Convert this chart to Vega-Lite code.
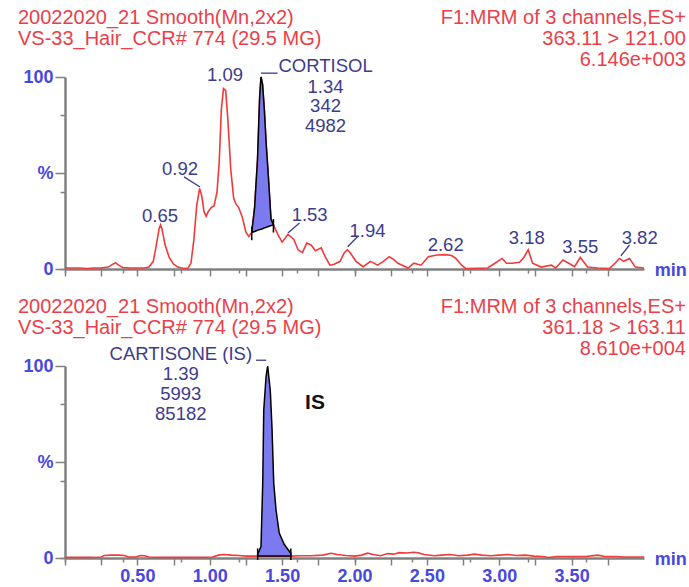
{
  "$schema": "https://vega.github.io/schema/vega-lite/v6.json",
  "padding": {"left": 17, "top": 8, "right": 0, "bottom": 0},
  "background": "white",
  "bounds": "flush",
  "spacing": 97,
  "config": {"view": {"stroke": null}, "font": "Liberation Sans"},
  "datasets": {
    "trace": [
      {"panel":"top","t":0.00,"v":0.5},{"panel":"top","t":0.05,"v":0.5},{"panel":"top","t":0.10,"v":0.5},{"panel":"top","t":0.15,"v":0.3},{"panel":"top","t":0.20,"v":0.5},{"panel":"top","t":0.25,"v":0.5},{"panel":"top","t":0.30,"v":1.0},{"panel":"top","t":0.33,"v":2.5},{"panel":"top","t":0.35,"v":3.2},{"panel":"top","t":0.37,"v":2.0},{"panel":"top","t":0.40,"v":0.8},{"panel":"top","t":0.45,"v":0.5},{"panel":"top","t":0.50,"v":0.5},{"panel":"top","t":0.55,"v":0.5},{"panel":"top","t":0.58,"v":1.0},{"panel":"top","t":0.61,"v":4},{"panel":"top","t":0.63,"v":12},{"panel":"top","t":0.65,"v":21},{"panel":"top","t":0.66,"v":23},{"panel":"top","t":0.67,"v":21},{"panel":"top","t":0.69,"v":13},{"panel":"top","t":0.72,"v":6},{"panel":"top","t":0.75,"v":2.5},{"panel":"top","t":0.78,"v":1},{"panel":"top","t":0.82,"v":0.3},{"panel":"top","t":0.85,"v":0.5},{"panel":"top","t":0.87,"v":3},{"panel":"top","t":0.89,"v":15},{"panel":"top","t":0.91,"v":33},{"panel":"top","t":0.93,"v":42},{"panel":"top","t":0.945,"v":38},{"panel":"top","t":0.96,"v":30},{"panel":"top","t":0.975,"v":27.5},{"panel":"top","t":0.99,"v":30},{"panel":"top","t":1.01,"v":32},{"panel":"top","t":1.03,"v":33},{"panel":"top","t":1.05,"v":40},{"panel":"top","t":1.065,"v":55},{"panel":"top","t":1.08,"v":83},{"panel":"top","t":1.095,"v":94},{"panel":"top","t":1.11,"v":93},{"panel":"top","t":1.125,"v":78},{"panel":"top","t":1.145,"v":52},{"panel":"top","t":1.165,"v":37},{"panel":"top","t":1.18,"v":34},{"panel":"top","t":1.20,"v":32},{"panel":"top","t":1.225,"v":27},{"panel":"top","t":1.25,"v":19},{"panel":"top","t":1.27,"v":17},{"panel":"top","t":1.29,"v":19},{"panel":"top","t":1.31,"v":32},{"panel":"top","t":1.33,"v":57},{"panel":"top","t":1.345,"v":90},{"panel":"top","t":1.354,"v":100},{"panel":"top","t":1.365,"v":96},{"panel":"top","t":1.377,"v":83},{"panel":"top","t":1.39,"v":65},{"panel":"top","t":1.405,"v":48},{"panel":"top","t":1.423,"v":26},{"panel":"top","t":1.44,"v":23},{"panel":"top","t":1.47,"v":18},{"panel":"top","t":1.50,"v":14},{"panel":"top","t":1.54,"v":18},{"panel":"top","t":1.58,"v":15.5},{"panel":"top","t":1.61,"v":10},{"panel":"top","t":1.64,"v":8.5},{"panel":"top","t":1.67,"v":13.5},{"panel":"top","t":1.70,"v":12.5},{"panel":"top","t":1.73,"v":9.5},{"panel":"top","t":1.77,"v":11},{"panel":"top","t":1.80,"v":6},{"panel":"top","t":1.83,"v":2},{"panel":"top","t":1.86,"v":2.5},{"panel":"top","t":1.90,"v":4},{"panel":"top","t":1.93,"v":8.5},{"panel":"top","t":1.95,"v":10},{"panel":"top","t":1.97,"v":8.5},{"panel":"top","t":2.01,"v":4},{"panel":"top","t":2.06,"v":1.2},{"panel":"top","t":2.11,"v":4},{"panel":"top","t":2.16,"v":2},{"panel":"top","t":2.20,"v":4},{"panel":"top","t":2.24,"v":6.4},{"panel":"top","t":2.27,"v":5},{"panel":"top","t":2.30,"v":3},{"panel":"top","t":2.37,"v":0.5},{"panel":"top","t":2.41,"v":3},{"panel":"top","t":2.46,"v":2},{"panel":"top","t":2.51,"v":6.4},{"panel":"top","t":2.57,"v":7.3},{"panel":"top","t":2.63,"v":7.5},{"panel":"top","t":2.67,"v":7},{"panel":"top","t":2.70,"v":5.5},{"panel":"top","t":2.74,"v":2},{"panel":"top","t":2.77,"v":0.2},{"panel":"top","t":2.85,"v":0.3},{"panel":"top","t":2.92,"v":0.5},{"panel":"top","t":2.97,"v":3},{"panel":"top","t":3.02,"v":5.5},{"panel":"top","t":3.05,"v":3},{"panel":"top","t":3.09,"v":3},{"panel":"top","t":3.14,"v":3.5},{"panel":"top","t":3.17,"v":6},{"panel":"top","t":3.20,"v":10},{"panel":"top","t":3.23,"v":3},{"panel":"top","t":3.29,"v":1},{"panel":"top","t":3.36,"v":2},{"panel":"top","t":3.39,"v":0.5},{"panel":"top","t":3.44,"v":4.7},{"panel":"top","t":3.48,"v":3},{"panel":"top","t":3.52,"v":1.2},{"panel":"top","t":3.56,"v":6},{"panel":"top","t":3.61,"v":1},{"panel":"top","t":3.68,"v":0.5},{"panel":"top","t":3.76,"v":0.2},{"panel":"top","t":3.80,"v":3},{"panel":"top","t":3.83,"v":5.5},{"panel":"top","t":3.86,"v":4},{"panel":"top","t":3.90,"v":5.5},{"panel":"top","t":3.94,"v":1},{"panel":"top","t":4.00,"v":0.5},
      {"panel":"bottom","t":0.00,"v":0.3},{"panel":"bottom","t":0.10,"v":0.3},{"panel":"bottom","t":0.20,"v":0.3},{"panel":"bottom","t":0.25,"v":0.5},{"panel":"bottom","t":0.27,"v":1.3},{"panel":"bottom","t":0.32,"v":1.5},{"panel":"bottom","t":0.37,"v":1.5},{"panel":"bottom","t":0.41,"v":1.3},{"panel":"bottom","t":0.44,"v":0.5},{"panel":"bottom","t":0.49,"v":0.5},{"panel":"bottom","t":0.52,"v":1.3},{"panel":"bottom","t":0.55,"v":1.2},{"panel":"bottom","t":0.58,"v":0.5},{"panel":"bottom","t":0.65,"v":0.3},{"panel":"bottom","t":0.80,"v":0.3},{"panel":"bottom","t":0.95,"v":0.3},{"panel":"bottom","t":1.02,"v":0.5},{"panel":"bottom","t":1.06,"v":1.5},{"panel":"bottom","t":1.10,"v":1.8},{"panel":"bottom","t":1.15,"v":1.5},{"panel":"bottom","t":1.20,"v":1.3},{"panel":"bottom","t":1.25,"v":1.0},{"panel":"bottom","t":1.331,"v":1.0},{"panel":"bottom","t":1.56,"v":1.0},{"panel":"bottom","t":1.62,"v":1.2},{"panel":"bottom","t":1.70,"v":1.2},{"panel":"bottom","t":1.78,"v":1.5},{"panel":"bottom","t":1.84,"v":2.5},{"panel":"bottom","t":1.88,"v":1.8},{"panel":"bottom","t":1.94,"v":1.3},{"panel":"bottom","t":2.00,"v":1.0},{"panel":"bottom","t":2.05,"v":1.5},{"panel":"bottom","t":2.09,"v":2.5},{"panel":"bottom","t":2.13,"v":1.8},{"panel":"bottom","t":2.18,"v":1.2},{"panel":"bottom","t":2.23,"v":2.3},{"panel":"bottom","t":2.27,"v":2.0},{"panel":"bottom","t":2.31,"v":2.8},{"panel":"bottom","t":2.36,"v":2.6},{"panel":"bottom","t":2.41,"v":3.0},{"panel":"bottom","t":2.44,"v":2.7},{"panel":"bottom","t":2.48,"v":1.8},{"panel":"bottom","t":2.55,"v":1.2},{"panel":"bottom","t":2.60,"v":1.5},{"panel":"bottom","t":2.66,"v":1.8},{"panel":"bottom","t":2.72,"v":1.2},{"panel":"bottom","t":2.78,"v":1.5},{"panel":"bottom","t":2.83,"v":2.0},{"panel":"bottom","t":2.88,"v":1.5},{"panel":"bottom","t":2.94,"v":1.2},{"panel":"bottom","t":3.00,"v":1.5},{"panel":"bottom","t":3.06,"v":1.8},{"panel":"bottom","t":3.12,"v":1.3},{"panel":"bottom","t":3.18,"v":1.5},{"panel":"bottom","t":3.24,"v":1.0},{"panel":"bottom","t":3.30,"v":0.8},{"panel":"bottom","t":3.34,"v":0.3},{"panel":"bottom","t":3.40,"v":0.8},{"panel":"bottom","t":3.50,"v":0.8},{"panel":"bottom","t":3.60,"v":0.8},{"panel":"bottom","t":3.68,"v":1.5},{"panel":"bottom","t":3.73,"v":0.8},{"panel":"bottom","t":3.80,"v":0.8},{"panel":"bottom","t":3.86,"v":0.5},{"panel":"bottom","t":3.92,"v":0.5},{"panel":"bottom","t":4.00,"v":0.5}
    ],
    "peak": [
      {"panel":"top","t":1.29,"v":19,"base":19},{"panel":"top","t":1.31,"v":32,"base":19.5},{"panel":"top","t":1.33,"v":57,"base":20.1},{"panel":"top","t":1.345,"v":90,"base":20.5},{"panel":"top","t":1.354,"v":100,"base":20.7},{"panel":"top","t":1.365,"v":96,"base":21},{"panel":"top","t":1.377,"v":83,"base":21.4},{"panel":"top","t":1.39,"v":65,"base":21.7},{"panel":"top","t":1.405,"v":48,"base":22.1},{"panel":"top","t":1.423,"v":26,"base":22.6},{"panel":"top","t":1.44,"v":23,"base":23},
      {"panel":"bottom","t":1.331,"v":2,"base":1},{"panel":"bottom","t":1.354,"v":6,"base":1},{"panel":"bottom","t":1.366,"v":39,"base":1},{"panel":"bottom","t":1.373,"v":77,"base":1},{"panel":"bottom","t":1.389,"v":94.5,"base":1},{"panel":"bottom","t":1.40,"v":100,"base":1},{"panel":"bottom","t":1.418,"v":87.5,"base":1},{"panel":"bottom","t":1.43,"v":68,"base":1},{"panel":"bottom","t":1.442,"v":39,"base":1},{"panel":"bottom","t":1.458,"v":25,"base":1},{"panel":"bottom","t":1.48,"v":13,"base":1},{"panel":"bottom","t":1.515,"v":7,"base":1},{"panel":"bottom","t":1.56,"v":2.5,"base":1}
    ],
    "ann": [
      {"panel":"top","t":0.656,"v":27.6,"text":"0.65"},{"panel":"top","t":0.795,"v":52,"text":"0.92"},{"panel":"top","t":1.105,"v":101,"text":"1.09"},{"panel":"top","t":1.80,"v":105.7,"text":"CORTISOL"},{"panel":"top","t":1.80,"v":94.8,"text":"1.34"},{"panel":"top","t":1.80,"v":84.7,"text":"342"},{"panel":"top","t":1.80,"v":74.3,"text":"4982"},{"panel":"top","t":1.69,"v":28,"text":"1.53"},{"panel":"top","t":2.09,"v":20,"text":"1.94"},{"panel":"top","t":2.63,"v":12.5,"text":"2.62"},{"panel":"top","t":3.19,"v":16,"text":"3.18"},{"panel":"top","t":3.56,"v":11.5,"text":"3.55"},{"panel":"top","t":3.97,"v":16,"text":"3.82"},
      {"panel":"bottom","t":0.80,"v":106.5,"text":"CARTISONE (IS)"},{"panel":"bottom","t":0.80,"v":96,"text":"1.39"},{"panel":"bottom","t":0.80,"v":85.5,"text":"5993"},{"panel":"bottom","t":0.80,"v":75,"text":"85182"}
    ],
    "leaders": [
      {"panel":"top","t":0.822,"v":48,"t2":0.933,"v2":42.7},{"panel":"top","t":1.54,"v":18.8,"t2":1.62,"v2":24},{"panel":"top","t":1.953,"v":11.6,"t2":2.02,"v2":16.8},{"panel":"top","t":3.84,"v":6.8,"t2":3.90,"v2":12.5},{"panel":"top","t":1.354,"v":102,"t2":1.469,"v2":102},
      {"panel":"bottom","t":1.32,"v":103,"t2":1.39,"v2":103}
    ],
    "bounds": [
      {"panel":"top","t":1.29,"v":15,"v2":22},{"panel":"top","t":1.44,"v":19,"v2":26},
      {"panel":"bottom","t":1.331,"v":-1,"v2":5},{"panel":"bottom","t":1.56,"v":-1,"v2":5}
    ],
    "headL": [
      {"panel":"top","t":-0.325,"v":130.7,"text":"20022020_21 Smooth(Mn,2x2)"},{"panel":"top","t":-0.325,"v":119.8,"text":"VS-33_Hair_CCR# 774 (29.5 MG)"},
      {"panel":"bottom","t":-0.325,"v":130.7,"text":"20022020_21 Smooth(Mn,2x2)"},{"panel":"bottom","t":-0.325,"v":119.8,"text":"VS-33_Hair_CCR# 774 (29.5 MG)"}
    ],
    "headR": [
      {"panel":"top","t":4.29,"v":130.7,"text":"F1:MRM of 3 channels,ES+"},{"panel":"top","t":4.29,"v":119.8,"text":"363.11 > 121.00"},{"panel":"top","t":4.29,"v":108.9,"text":"6.146e+003"},
      {"panel":"bottom","t":4.29,"v":130.7,"text":"F1:MRM of 3 channels,ES+"},{"panel":"bottom","t":4.29,"v":119.8,"text":"361.18 > 163.11"},{"panel":"bottom","t":4.29,"v":108.9,"text":"8.610e+004"}
    ],
    "unit": [
      {"panel":"top","t":4.075,"v":-1,"text":"min"},{"panel":"bottom","t":4.075,"v":-1,"text":"min"}
    ],
    "tag": [
      {"panel":"bottom","t":1.727,"v":80.7,"text":"IS"}
    ]
  },
  "vconcat": [
    {
      "width": 579, "height": 192,
      "resolve": {"axis": {"x": "independent", "y": "independent"}},
      "layer": [
        {"layer": [
          {"data":{"name":"trace"},"transform":[{"filter":"datum.panel=='top'"}],"mark":{"type":"line","color":"#f03a3a","strokeWidth":1.6},
           "encoding":{
             "x":{"field":"t","type":"quantitative","scale":{"domain":[0,4],"nice":false,"zero":false},
                  "axis":{"title":null,"grid":false,"labels":false,"orient":"bottom","values":[0,0.05,0.1,0.15,0.2,0.25,0.3,0.35,0.4,0.45,0.5,0.55,0.6,0.65,0.7,0.75,0.8,0.85,0.9,0.95,1,1.05,1.1,1.15,1.2,1.25,1.3,1.35,1.4,1.45,1.5,1.55,1.6,1.65,1.7,1.75,1.8,1.85,1.9,1.95,2,2.05,2.1,2.15,2.2,2.25,2.3,2.35,2.4,2.45,2.5,2.55,2.6,2.65,2.7,2.75,2.8,2.85,2.9,2.95,3,3.05,3.1,3.15,3.2,3.25,3.3,3.35,3.4,3.45,3.5,3.55,3.6,3.65,3.7,3.75,3.8,3.85,3.9,3.95],
                          "tickSize":4,"tickColor":"#808080","tickWidth":1.5,"domainColor":"#808080","domainWidth":2.5}},
             "y":{"field":"v","type":"quantitative","scale":{"domain":[0,100],"nice":false},
                  "axis":{"title":null,"grid":false,"labels":false,"orient":"left","values":[0,10,20,30,40,50,60,70,80,90,100],
                          "tickSize":5,"tickColor":"#808080","tickWidth":1.5,"domainColor":"#808080","domainWidth":2.5}}
           }},
          {"data":{"name":"peak"},"transform":[{"filter":"datum.panel=='top'"}],"mark":{"type":"area","fill":"#7b7bef","stroke":"#000000","strokeWidth":1.5},
           "encoding":{"x":{"field":"t","type":"quantitative"},"y":{"field":"v","type":"quantitative"},"y2":{"field":"base"}}},
          {"data":{"name":"bounds"},"transform":[{"filter":"datum.panel=='top'"}],"mark":{"type":"rule","color":"#000000","strokeWidth":1.5},
           "encoding":{"x":{"field":"t","type":"quantitative"},"y":{"field":"v","type":"quantitative"},"y2":{"field":"v2"}}},
          {"data":{"name":"leaders"},"transform":[{"filter":"datum.panel=='top'"}],"mark":{"type":"rule","color":"#3c3c8c","strokeWidth":1.3},
           "encoding":{"x":{"field":"t","type":"quantitative"},"y":{"field":"v","type":"quantitative"},"x2":{"field":"t2"},"y2":{"field":"v2"}}},
          {"data":{"name":"ann"},"transform":[{"filter":"datum.panel=='top'"}],"mark":{"type":"text","color":"#3c3c8c","fontSize":18.5,"font":"Liberation Sans","align":"center","baseline":"middle"},
           "encoding":{"x":{"field":"t","type":"quantitative"},"y":{"field":"v","type":"quantitative"},"text":{"field":"text"}}},
          {"data":{"name":"headL"},"transform":[{"filter":"datum.panel=='top'"}],"mark":{"type":"text","color":"#ea3f4a","fontSize":20,"font":"Liberation Sans","align":"left","baseline":"middle"},
           "encoding":{"x":{"field":"t","type":"quantitative"},"y":{"field":"v","type":"quantitative"},"text":{"field":"text"}}},
          {"data":{"name":"headR"},"transform":[{"filter":"datum.panel=='top'"}],"mark":{"type":"text","color":"#ea3f4a","fontSize":20,"font":"Liberation Sans","align":"right","baseline":"middle"},
           "encoding":{"x":{"field":"t","type":"quantitative"},"y":{"field":"v","type":"quantitative"},"text":{"field":"text"}}}
        ]},
        {"data":{"name":"unit"},"transform":[{"filter":"datum.panel=='top'"}],"mark":{"type":"text","color":"#4848e0","fontSize":18,"font":"Liberation Sans","fontWeight":"bold","align":"left","baseline":"middle"},
         "encoding":{
           "x":{"field":"t","type":"quantitative","axis":{"title":null,"grid":false,"labels":false,"domain":false,"orient":"bottom","values":[0,0.25,0.5,0.75,1,1.25,1.5,1.75,2,2.25,2.5,2.75,3,3.25,3.5,3.75],"tickSize":7,"tickColor":"#808080","tickWidth":1.5}},
           "y":{"field":"v","type":"quantitative","axis":{"title":null,"grid":false,"domain":false,"orient":"left","values":[0,50,100],
                "labelExpr":"datum.value==100?'100':datum.value==50?'%':'0'","labelOverlap":false,
                "tickSize":10,"tickColor":"#808080","tickWidth":1.5,
                "labelColor":"#4848e0","labelFontSize":18,"labelFontWeight":"bold","labelPadding":2,"labelFont":"Liberation Sans"}},
           "text":{"field":"text"}}}
      ]
    },
    {
      "width": 579, "height": 192,
      "resolve": {"axis": {"x": "independent", "y": "independent"}},
      "layer": [
        {"layer": [
          {"data":{"name":"trace"},"transform":[{"filter":"datum.panel=='bottom'"}],"mark":{"type":"line","color":"#f03a3a","strokeWidth":1.6},
           "encoding":{
             "x":{"field":"t","type":"quantitative","scale":{"domain":[0,4],"nice":false,"zero":false},
                  "axis":{"title":null,"grid":false,"labels":false,"orient":"bottom","values":[0,0.05,0.1,0.15,0.2,0.25,0.3,0.35,0.4,0.45,0.5,0.55,0.6,0.65,0.7,0.75,0.8,0.85,0.9,0.95,1,1.05,1.1,1.15,1.2,1.25,1.3,1.35,1.4,1.45,1.5,1.55,1.6,1.65,1.7,1.75,1.8,1.85,1.9,1.95,2,2.05,2.1,2.15,2.2,2.25,2.3,2.35,2.4,2.45,2.5,2.55,2.6,2.65,2.7,2.75,2.8,2.85,2.9,2.95,3,3.05,3.1,3.15,3.2,3.25,3.3,3.35,3.4,3.45,3.5,3.55,3.6,3.65,3.7,3.75,3.8,3.85,3.9,3.95],
                          "tickSize":4,"tickColor":"#808080","tickWidth":1.5,"domainColor":"#808080","domainWidth":2.5}},
             "y":{"field":"v","type":"quantitative","scale":{"domain":[0,100],"nice":false},
                  "axis":{"title":null,"grid":false,"labels":false,"orient":"left","values":[0,10,20,30,40,50,60,70,80,90,100],
                          "tickSize":5,"tickColor":"#808080","tickWidth":1.5,"domainColor":"#808080","domainWidth":2.5}}
           }},
          {"data":{"name":"peak"},"transform":[{"filter":"datum.panel=='bottom'"}],"mark":{"type":"area","fill":"#7b7bef","stroke":"#000000","strokeWidth":1.5},
           "encoding":{"x":{"field":"t","type":"quantitative"},"y":{"field":"v","type":"quantitative"},"y2":{"field":"base"}}},
          {"data":{"name":"bounds"},"transform":[{"filter":"datum.panel=='bottom'"}],"mark":{"type":"rule","color":"#000000","strokeWidth":1.5},
           "encoding":{"x":{"field":"t","type":"quantitative"},"y":{"field":"v","type":"quantitative"},"y2":{"field":"v2"}}},
          {"data":{"name":"leaders"},"transform":[{"filter":"datum.panel=='bottom'"}],"mark":{"type":"rule","color":"#3c3c8c","strokeWidth":1.3},
           "encoding":{"x":{"field":"t","type":"quantitative"},"y":{"field":"v","type":"quantitative"},"x2":{"field":"t2"},"y2":{"field":"v2"}}},
          {"data":{"name":"ann"},"transform":[{"filter":"datum.panel=='bottom'"}],"mark":{"type":"text","color":"#3c3c8c","fontSize":18.5,"font":"Liberation Sans","align":"center","baseline":"middle"},
           "encoding":{"x":{"field":"t","type":"quantitative"},"y":{"field":"v","type":"quantitative"},"text":{"field":"text"}}},
          {"data":{"name":"tag"},"mark":{"type":"text","color":"#111111","fontSize":21,"font":"Liberation Sans","fontWeight":"bold","align":"center","baseline":"middle"},
           "encoding":{"x":{"field":"t","type":"quantitative"},"y":{"field":"v","type":"quantitative"},"text":{"field":"text"}}},
          {"data":{"name":"headL"},"transform":[{"filter":"datum.panel=='bottom'"}],"mark":{"type":"text","color":"#ea3f4a","fontSize":20,"font":"Liberation Sans","align":"left","baseline":"middle"},
           "encoding":{"x":{"field":"t","type":"quantitative"},"y":{"field":"v","type":"quantitative"},"text":{"field":"text"}}},
          {"data":{"name":"headR"},"transform":[{"filter":"datum.panel=='bottom'"}],"mark":{"type":"text","color":"#ea3f4a","fontSize":20,"font":"Liberation Sans","align":"right","baseline":"middle"},
           "encoding":{"x":{"field":"t","type":"quantitative"},"y":{"field":"v","type":"quantitative"},"text":{"field":"text"}}}
        ]},
        {"data":{"name":"unit"},"transform":[{"filter":"datum.panel=='bottom'"}],"mark":{"type":"text","color":"#4848e0","fontSize":18,"font":"Liberation Sans","fontWeight":"bold","align":"left","baseline":"middle"},
         "encoding":{
           "x":{"field":"t","type":"quantitative","axis":{"title":null,"grid":false,"domain":false,"orient":"bottom","values":[0,0.25,0.5,0.75,1,1.25,1.5,1.75,2,2.25,2.5,2.75,3,3.25,3.5,3.75],
                "labelExpr":"(datum.value>0.2 && abs(round(datum.value*2)-datum.value*2)<0.001) ? format(datum.value,'.2f') : ''",
                "labelOverlap":false,"labelFlush":false,"labelBound":false,
                "tickSize":7,"tickColor":"#808080","tickWidth":1.5,
                "labelColor":"#4848e0","labelFontSize":18,"labelFontWeight":"bold","labelPadding":2,"labelFont":"Liberation Sans"}},
           "y":{"field":"v","type":"quantitative","axis":{"title":null,"grid":false,"domain":false,"orient":"left","values":[0,50,100],
                "labelExpr":"datum.value==100?'100':datum.value==50?'%':'0'","labelOverlap":false,
                "tickSize":10,"tickColor":"#808080","tickWidth":1.5,
                "labelColor":"#4848e0","labelFontSize":18,"labelFontWeight":"bold","labelPadding":2,"labelFont":"Liberation Sans"}},
           "text":{"field":"text"}}}
      ]
    }
  ]
}
